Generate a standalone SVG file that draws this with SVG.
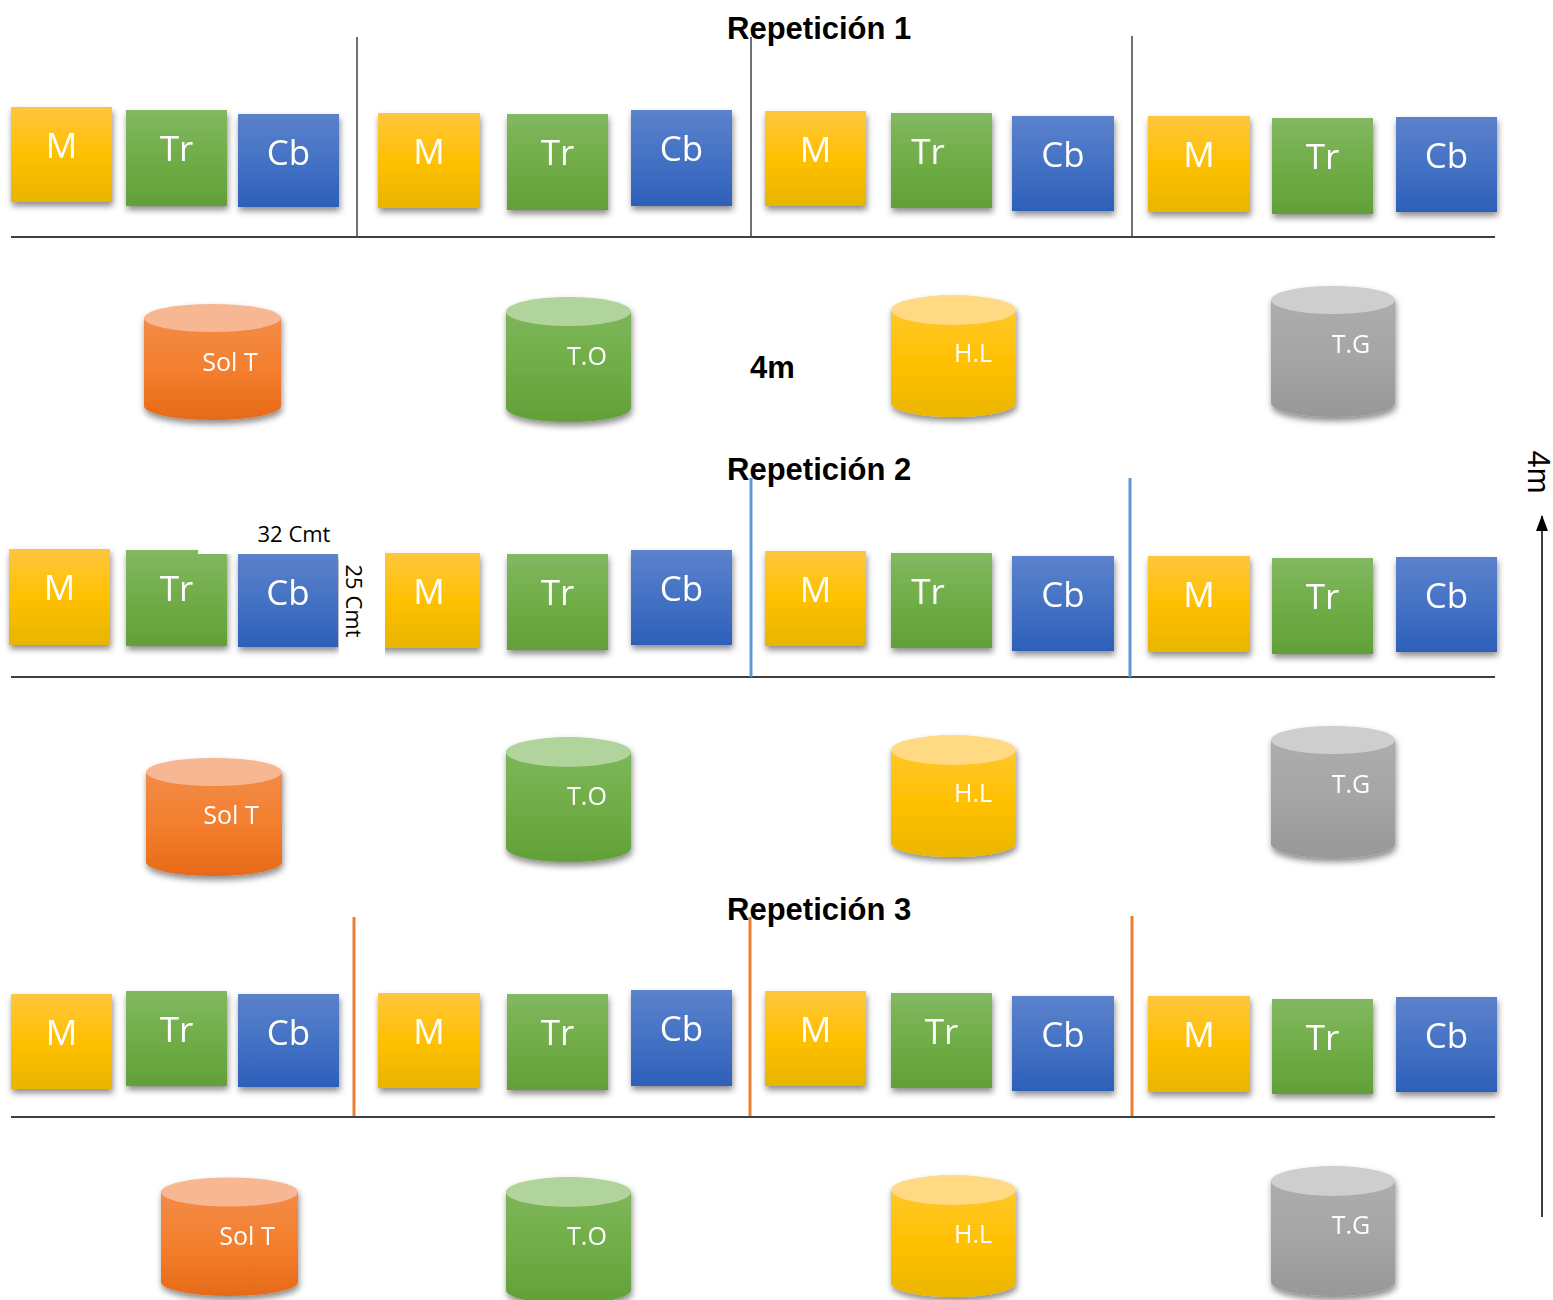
<svg xmlns="http://www.w3.org/2000/svg" width="1553" height="1300" viewBox="0 0 1553 1300">
<style>
.lbl{font-family:"Open Sans","Noto Sans",sans-serif;font-size:35px;fill:#fff;text-anchor:middle}
.cyl{font-family:"Open Sans","Noto Sans",sans-serif;font-size:25px;fill:#fff;text-anchor:middle}
.title{font-family:"Liberation Sans",Arial,sans-serif;font-weight:bold;font-size:31px;fill:#000}
.dim{font-family:"Open Sans","Noto Sans",sans-serif;font-size:22px;fill:#000}
.hl{stroke:#404040;stroke-width:2;fill:none}
.vl{stroke:#404040;stroke-width:1.5;fill:none}
.vb{stroke:#5B9BD5;stroke-width:3;fill:none}
.vo{stroke:#ED7D31;stroke-width:3;fill:none}
.m{fill:url(#gM)}.tr{fill:url(#gT)}.cb{fill:url(#gC)}
</style>
<defs>
<filter id="sh" x="-20%" y="-20%" width="140%" height="150%">
<feDropShadow dx="1" dy="4" stdDeviation="3" flood-color="#000" flood-opacity="0.45"/>
</filter>
<linearGradient id="gM" x1="0" y1="0" x2="0" y2="1"><stop offset="0" stop-color="#FFC63F"/><stop offset="0.5" stop-color="#FFC000"/><stop offset="1" stop-color="#E8B500"/></linearGradient>
<linearGradient id="gT" x1="0" y1="0" x2="0" y2="1"><stop offset="0" stop-color="#82B862"/><stop offset="0.5" stop-color="#70AD47"/><stop offset="1" stop-color="#62A038"/></linearGradient>
<linearGradient id="gC" x1="0" y1="0" x2="0" y2="1"><stop offset="0" stop-color="#5C82CC"/><stop offset="0.5" stop-color="#4472C4"/><stop offset="1" stop-color="#2E5FBA"/></linearGradient>
<linearGradient id="cO" x1="0" y1="0" x2="0" y2="1"><stop offset="0" stop-color="#F28B48"/><stop offset="0.5" stop-color="#F47F2E"/><stop offset="1" stop-color="#E66A18"/></linearGradient>
<linearGradient id="cG" x1="0" y1="0" x2="0" y2="1"><stop offset="0" stop-color="#7DB65A"/><stop offset="0.5" stop-color="#70AD47"/><stop offset="1" stop-color="#62A038"/></linearGradient>
<linearGradient id="cY" x1="0" y1="0" x2="0" y2="1"><stop offset="0" stop-color="#FFC72A"/><stop offset="0.5" stop-color="#FFC000"/><stop offset="1" stop-color="#EAB600"/></linearGradient>
<linearGradient id="cS" x1="0" y1="0" x2="0" y2="1"><stop offset="0" stop-color="#ADADAD"/><stop offset="0.5" stop-color="#A5A5A5"/><stop offset="1" stop-color="#989898"/></linearGradient>
<marker id="ah" viewBox="0 0 16 12" refX="15" refY="6" markerWidth="16" markerHeight="12" markerUnits="userSpaceOnUse" orient="auto"><path d="M0,0 L16,6 L0,12 Z" fill="#000"/></marker>
</defs>
<rect width="1553" height="1300" fill="#fff"/>

<!-- titles -->
<text class="title" x="727" y="39">Repetición 1</text>
<text class="title" x="727" y="480">Repetición 2</text>
<text class="title" x="727" y="920">Repetición 3</text>
<text class="title" x="750" y="378" font-size="32">4m</text>

<!-- connectors / lines -->
<g id="connectors">
<line class="hl" x1="11" y1="237" x2="1495" y2="237"/>
<line class="hl" x1="11" y1="677" x2="1495" y2="677"/>
<line class="hl" x1="11" y1="1117" x2="1495" y2="1117"/>
<line class="vl" x1="357" y1="37" x2="357" y2="237"/>
<line class="vl" x1="751" y1="37" x2="751" y2="237"/>
<line class="vl" x1="1132" y1="36" x2="1132" y2="237"/>
<line class="vb" x1="751" y1="478" x2="751" y2="677"/>
<line class="vb" x1="1130" y1="478" x2="1130" y2="677"/>
<line class="vo" x1="354" y1="917" x2="354" y2="1116"/>
<line class="vo" x1="750" y1="917" x2="750" y2="1116"/>
<line class="vo" x1="1132" y1="916" x2="1132" y2="1116"/>
<line x1="1542" y1="1217" x2="1542" y2="516" stroke="#000" stroke-width="1.5" marker-end="url(#ah)"/>
</g>
<text class="title" font-size="30" transform="translate(1528,472) rotate(90)" text-anchor="middle" style="font-weight:normal">4m</text>

<!-- Row 1 boxes -->
<g id="r1-m1" filter="url(#sh)"><rect class="m" x="11" y="107" width="101" height="95"/><text class="lbl" x="61.5" y="158">M</text></g>
<g id="r1-tr1" filter="url(#sh)"><rect class="tr" x="126" y="110" width="101" height="96"/><text class="lbl" x="176.5" y="161">Tr</text></g>
<g id="r1-cb1" filter="url(#sh)"><rect class="cb" x="238" y="114" width="101" height="93"/><text class="lbl" x="288.5" y="165">Cb</text></g>
<g id="r1-m2" filter="url(#sh)"><rect class="m" x="378" y="113" width="102" height="95"/><text class="lbl" x="429" y="164">M</text></g>
<g id="r1-tr2" filter="url(#sh)"><rect class="tr" x="507" y="114" width="101" height="96"/><text class="lbl" x="557.5" y="165">Tr</text></g>
<g id="r1-cb2" filter="url(#sh)"><rect class="cb" x="631" y="110" width="101" height="96"/><text class="lbl" x="681.5" y="161">Cb</text></g>
<g id="r1-m3" filter="url(#sh)"><rect class="m" x="765" y="111" width="101" height="95"/><text class="lbl" x="815.5" y="162">M</text></g>
<g id="r1-tr3" filter="url(#sh)"><rect class="tr" x="891" y="113" width="101" height="95"/><text class="lbl" x="928" y="164">Tr</text></g>
<g id="r1-cb3" filter="url(#sh)"><rect class="cb" x="1012" y="116" width="102" height="95"/><text class="lbl" x="1063" y="167">Cb</text></g>
<g id="r1-m4" filter="url(#sh)"><rect class="m" x="1148" y="116" width="102" height="96"/><text class="lbl" x="1199" y="167">M</text></g>
<g id="r1-tr4" filter="url(#sh)"><rect class="tr" x="1272" y="118" width="101" height="96"/><text class="lbl" x="1322.5" y="169">Tr</text></g>
<g id="r1-cb4" filter="url(#sh)"><rect class="cb" x="1396" y="117" width="101" height="95"/><text class="lbl" x="1446.5" y="168">Cb</text></g>

<!-- Row 2 boxes -->
<g id="r2-m1" filter="url(#sh)"><rect class="m" x="9" y="549" width="101" height="96"/><text class="lbl" x="59.5" y="600">M</text></g>
<g id="r2-tr1" filter="url(#sh)"><rect class="tr" x="126" y="550" width="101" height="96"/><text class="lbl" x="176.5" y="601">Tr</text></g>
<g id="r2-cb1" filter="url(#sh)"><rect class="cb" x="238" y="554" width="100" height="93"/><text class="lbl" x="288" y="605">Cb</text></g>
<g id="r2-m2" filter="url(#sh)"><rect class="m" x="378" y="553" width="102" height="95"/><text class="lbl" x="429" y="604">M</text></g>
<g id="r2-tr2" filter="url(#sh)"><rect class="tr" x="507" y="554" width="101" height="96"/><text class="lbl" x="557.5" y="605">Tr</text></g>
<g id="r2-cb2" filter="url(#sh)"><rect class="cb" x="631" y="550" width="101" height="95"/><text class="lbl" x="681.5" y="601">Cb</text></g>
<g id="r2-m3" filter="url(#sh)"><rect class="m" x="765" y="551" width="101" height="95"/><text class="lbl" x="815.5" y="602">M</text></g>
<g id="r2-tr3" filter="url(#sh)"><rect class="tr" x="891" y="553" width="101" height="95"/><text class="lbl" x="928" y="604">Tr</text></g>
<g id="r2-cb3" filter="url(#sh)"><rect class="cb" x="1012" y="556" width="102" height="95"/><text class="lbl" x="1063" y="607">Cb</text></g>
<g id="r2-m4" filter="url(#sh)"><rect class="m" x="1148" y="556" width="102" height="96"/><text class="lbl" x="1199" y="607">M</text></g>
<g id="r2-tr4" filter="url(#sh)"><rect class="tr" x="1272" y="558" width="101" height="96"/><text class="lbl" x="1322.5" y="609">Tr</text></g>
<g id="r2-cb4" filter="url(#sh)"><rect class="cb" x="1396" y="557" width="101" height="95"/><text class="lbl" x="1446.5" y="608">Cb</text></g>

<!-- dimension labels -->
<g id="dim-32">
<rect x="198" y="512" width="146" height="42" fill="#fff"/>
<text class="dim" x="294" y="542" text-anchor="middle">32 Cmt</text>
</g>
<g id="dim-25">
<rect x="339" y="548" width="46" height="116" fill="#fff"/>
<text class="dim" font-size="23" transform="translate(346,601) rotate(90)" text-anchor="middle">25 Cmt</text>
</g>

<!-- Row 3 boxes -->
<g id="r3-m1" filter="url(#sh)"><rect class="m" x="11" y="994" width="101" height="95"/><text class="lbl" x="61.5" y="1045">M</text></g>
<g id="r3-tr1" filter="url(#sh)"><rect class="tr" x="126" y="991" width="101" height="95"/><text class="lbl" x="176.5" y="1042">Tr</text></g>
<g id="r3-cb1" filter="url(#sh)"><rect class="cb" x="238" y="994" width="101" height="93"/><text class="lbl" x="288.5" y="1045">Cb</text></g>
<g id="r3-m2" filter="url(#sh)"><rect class="m" x="378" y="993" width="102" height="95"/><text class="lbl" x="429" y="1044">M</text></g>
<g id="r3-tr2" filter="url(#sh)"><rect class="tr" x="507" y="994" width="101" height="96"/><text class="lbl" x="557.5" y="1045">Tr</text></g>
<g id="r3-cb2" filter="url(#sh)"><rect class="cb" x="631" y="990" width="101" height="96"/><text class="lbl" x="681.5" y="1041">Cb</text></g>
<g id="r3-m3" filter="url(#sh)"><rect class="m" x="765" y="991" width="101" height="95"/><text class="lbl" x="815.5" y="1042">M</text></g>
<g id="r3-tr3" filter="url(#sh)"><rect class="tr" x="891" y="993" width="101" height="95"/><text class="lbl" x="941.5" y="1044">Tr</text></g>
<g id="r3-cb3" filter="url(#sh)"><rect class="cb" x="1012" y="996" width="102" height="95"/><text class="lbl" x="1063" y="1047">Cb</text></g>
<g id="r3-m4" filter="url(#sh)"><rect class="m" x="1148" y="996" width="102" height="96"/><text class="lbl" x="1199" y="1047">M</text></g>
<g id="r3-tr4" filter="url(#sh)"><rect class="tr" x="1272" y="999" width="101" height="95"/><text class="lbl" x="1322.5" y="1050">Tr</text></g>
<g id="r3-cb4" filter="url(#sh)"><rect class="cb" x="1396" y="997" width="101" height="95"/><text class="lbl" x="1446.5" y="1048">Cb</text></g>

<!-- Cylinders row 1 -->
<g id="c1-solt" filter="url(#sh)"><path d="M144,318 V406 A68.5,14 0 0 0 281,406 V318 Z" fill="url(#cO)"/><ellipse cx="212.5" cy="318" rx="68.5" ry="14" fill="#F7B793"/><text class="cyl" x="230" y="371">Sol T</text></g>
<g id="c1-to" filter="url(#sh)"><path d="M506,311.5 V408 A62.5,14 0 0 0 631,408 V311.5 Z" fill="url(#cG)"/><ellipse cx="568.5" cy="311.5" rx="62.5" ry="14.5" fill="#B0D49C"/><text class="cyl" x="587" y="365">T.O</text></g>
<g id="c1-hl" filter="url(#sh)"><path d="M891,310 V403 A62.5,14 0 0 0 1016,403 V310 Z" fill="url(#cY)"/><ellipse cx="953.5" cy="310" rx="62.5" ry="15" fill="#FFDA82"/><text class="cyl" x="973" y="362">H.L</text></g>
<g id="c1-tg" filter="url(#sh)"><path d="M1271,300 V403 A62,14 0 0 0 1395,403 V300 Z" fill="url(#cS)"/><ellipse cx="1333" cy="300" rx="62" ry="14" fill="#CECECE"/><text class="cyl" x="1351" y="353">T.G</text></g>

<!-- Cylinders row 2 -->
<g id="c2-solt" filter="url(#sh)"><path d="M146,772 V862 A68,14 0 0 0 282,862 V772 Z" fill="url(#cO)"/><ellipse cx="214" cy="772" rx="68" ry="14" fill="#F7B793"/><text class="cyl" x="231" y="824">Sol T</text></g>
<g id="c2-to" filter="url(#sh)"><path d="M506,752 V848 A62.5,14 0 0 0 631,848 V752 Z" fill="url(#cG)"/><ellipse cx="568.5" cy="752" rx="62.5" ry="15" fill="#B0D49C"/><text class="cyl" x="587" y="805">T.O</text></g>
<g id="c2-hl" filter="url(#sh)"><path d="M891,750 V843 A62.5,14 0 0 0 1016,843 V750 Z" fill="url(#cY)"/><ellipse cx="953.5" cy="750" rx="62.5" ry="15" fill="#FFDA82"/><text class="cyl" x="973" y="802">H.L</text></g>
<g id="c2-tg" filter="url(#sh)"><path d="M1271,740 V844 A62,14 0 0 0 1395,844 V740 Z" fill="url(#cS)"/><ellipse cx="1333" cy="740" rx="62" ry="14" fill="#CECECE"/><text class="cyl" x="1351" y="793">T.G</text></g>

<!-- Cylinders row 3 -->
<g id="c3-solt" filter="url(#sh)"><path d="M161,1192 V1282 A68.5,14 0 0 0 298,1282 V1192 Z" fill="url(#cO)"/><ellipse cx="229.5" cy="1192" rx="68.5" ry="14.5" fill="#F7B793"/><text class="cyl" x="247" y="1245">Sol T</text></g>
<g id="c3-to" filter="url(#sh)"><path d="M506,1192 V1290 A62.5,14 0 0 0 631,1290 V1192 Z" fill="url(#cG)"/><ellipse cx="568.5" cy="1192" rx="62.5" ry="15" fill="#B0D49C"/><text class="cyl" x="587" y="1245">T.O</text></g>
<g id="c3-hl" filter="url(#sh)"><path d="M891,1190 V1283 A62.5,14 0 0 0 1016,1283 V1190 Z" fill="url(#cY)"/><ellipse cx="953.5" cy="1190" rx="62.5" ry="15" fill="#FFDA82"/><text class="cyl" x="973" y="1243">H.L</text></g>
<g id="c3-tg" filter="url(#sh)"><path d="M1271,1181 V1282 A62,14 0 0 0 1395,1282 V1181 Z" fill="url(#cS)"/><ellipse cx="1333" cy="1181" rx="62" ry="15" fill="#CECECE"/><text class="cyl" x="1351" y="1234">T.G</text></g>
</svg>
